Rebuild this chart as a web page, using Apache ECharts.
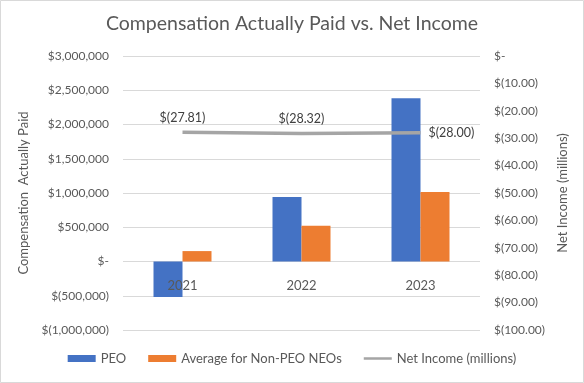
<!DOCTYPE html>
<html><head><meta charset="utf-8">
<script src="https://cdn.jsdelivr.net/npm/echarts@6/dist/echarts.min.js"></script>
<style>html,body{margin:0;padding:0;background:#fff}#c{width:584px;height:383px}</style>
</head><body><div id="c"></div>
<script>
const categories = ['2021', '2022', '2023'];
const peo = [-520000, 940000, 2385000];
const nonPeo = [152000, 521000, 1013000];
const netIncome = [-27.81, -28.32, -28.00];
const seriesNames = ['PEO', 'Average for Non-PEO NEOs', 'Net Income (millions)'];

const FONT = 'Lato';
const TXT = '#595959';
function leftFmt(v){
  if (v === 0) return '$-';
  const s = Math.abs(v).toLocaleString('en-US');
  return v < 0 ? '$(' + s + ')' : '$' + s;
}
function rightFmt(v){
  if (v === 0) return '$-';
  const s = Math.abs(v).toFixed(2);
  return v < 0 ? '$(' + s + ')' : '$' + s;
}
const LEFT_MIN = -1000000;
const chart = echarts.init(document.getElementById('c'), null, {renderer:'canvas'});
chart.setOption({
  backgroundColor:'#fff',
  animation:false,
  textStyle:{fontFamily:FONT},
  title:{text:'Compensation Actually Paid vs. Net Income', left:'center', top:9,
    textStyle:{fontFamily:FONT, fontSize:19.5, fontWeight:'normal', color:TXT}},
  graphic:[{type:'rect', shape:{x:0.5,y:0.5,width:583,height:382}, style:{fill:null, stroke:'#d9d9d9', lineWidth:1}, silent:true}],
  legend:{bottom:13, left:'center', itemWidth:28, itemHeight:7, itemGap:22,
    textStyle:{fontFamily:FONT, fontSize:13, color:TXT},
    data:[{name:seriesNames[0], icon:'rect'},{name:seriesNames[1], icon:'rect'},
      {name:seriesNames[2], icon:'path://M0,0 L0.01,0 M0,7 L0.01,7 M0,2.2 L28,2.2 L28,4.8 L0,4.8 Z'}]},
  grid:{left:123, right:104, top:56, bottom:53},
  xAxis:{type:'category', data:categories, z:10,
    axisLine:{show:false, onZero:false}, axisTick:{show:false},
    axisLabel:{fontFamily:FONT, fontSize:13, color:TXT, margin:18}},
  yAxis:[
    {type:'value', min:LEFT_MIN, max:3000000, interval:500000,
     name:'Compensation  Actually Paid', nameLocation:'middle', nameGap:93,
     nameTextStyle:{fontFamily:FONT, fontSize:13, color:TXT},
     axisLabel:{formatter:leftFmt, fontFamily:FONT, fontSize:12, color:TXT, margin:14},
     splitLine:{lineStyle:{color:'#d9d9d9'}}, axisLine:{show:false}, axisTick:{show:false}},
    {type:'value', min:-100, max:0, interval:10, position:'right',
     name:'Net Income (millions)', nameLocation:'middle', nameGap:75, nameRotate:90,
     nameTextStyle:{fontFamily:FONT, fontSize:13, color:TXT},
     axisLabel:{formatter:rightFmt, fontFamily:FONT, fontSize:12, color:TXT, margin:14},
     splitLine:{show:false}, axisLine:{show:false}, axisTick:{show:false}}
  ],
  series:[
    {name:seriesNames[0], type:'bar', data:peo, itemStyle:{color:'#4472c4'}, barWidth:29, barGap:'0%', z:2},
    {name:seriesNames[1], type:'bar', data:nonPeo, itemStyle:{color:'#ed7d31'}, barWidth:29, barGap:'0%', z:2},
    {name:seriesNames[2], type:'line', yAxisIndex:1, data:netIncome.map((v,i)=>({value:v,
        label:{position: i===2 ? 'right' : 'top'}})),
     symbol:'circle', symbolSize:0, showSymbol:true, z:3,
     lineStyle:{color:'#a5a5a5', width:3.5}, itemStyle:{color:'#a5a5a5'},
     label:{show:true, formatter:p=>rightFmt(p.value), fontFamily:FONT, fontSize:12.5, color:'#404040', distance:8}}
  ]
});
// move category labels up to the zero line of the left axis
const yZero = chart.convertToPixel({yAxisIndex:0}, 0);
const yMin = chart.convertToPixel({yAxisIndex:0}, LEFT_MIN);
chart.setOption({xAxis:{offset: -(yMin - yZero)}});
</script></body></html>
